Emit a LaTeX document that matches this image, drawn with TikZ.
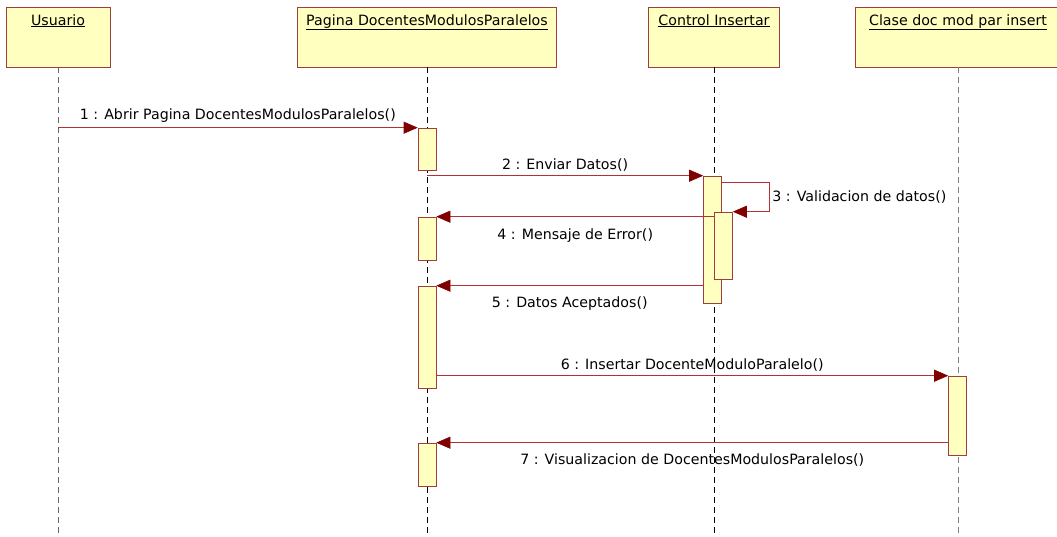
\documentclass[tikz,border=0pt]{standalone}
\usepackage{fontspec}
\setmainfont{DejaVu Sans}
\usetikzlibrary{arrows.meta}
\definecolor{boxfill}{RGB}{255,255,192}
\definecolor{boxline}{RGB}{160,60,60}
\definecolor{msgred}{RGB}{176,50,50}
\definecolor{tipred}{RGB}{128,0,0}

\begin{document}
\begin{tikzpicture}[x=1pt, y=-1pt,
  object/.style={rectangle, draw=boxline, fill=boxfill, semithick,
    minimum height=60pt, inner sep=0pt},
  bar/.style={rectangle, draw=boxline, fill=boxfill, semithick,
    minimum width=18pt, inner sep=0pt},
  lifeline/.style={dash pattern=on 6pt off 4pt, thin},
  msg/.style={draw=msgred, semithick,
    -{Triangle[length=14pt, width=12pt, color=tipred]}},
  lbl/.style={font=\fontsize{14.2}{17}\selectfont},
  ttl/.style={anchor=north, font=\fontsize{14.2}{17}\selectfont, yshift=-4pt}
]
\useasboundingbox (0,0) rectangle (1057,537);

% objects
\node[object, minimum width=104pt, label={[ttl]north:\underline{Usuario}}] (usr) at (58,37) {};
\node[object, minimum width=259pt, label={[ttl]north:\underline{Pagina DocentesModulosParalelos}}] (pag) at (427,37) {};
\node[object, minimum width=131pt, label={[ttl]north:\underline{Control Insertar}}] (ctl) at (714,37) {};
\node[object, minimum width=206pt, label={[ttl]north:\underline{Clase doc mod par insert}}] (cls) at (958,37) {};

\coordinate (usrend) at (58,537);
\coordinate (pagend) at (427,537);
\coordinate (ctlend) at (714,537);
\coordinate (clsend) at (958,537);

% lifelines
\draw[lifeline, gray!80!black] (usr) -- (usrend);
\draw[lifeline, black] (pag) -- (pagend);
\draw[lifeline, black] (ctl) -- (ctlend);
\draw[lifeline, gray] (cls) -- (clsend);

% activations
\node[bar, minimum height=42pt] (p1) at (427,149) {};
\node[bar, minimum height=43pt] (p2) at (427,238.5) {};
\node[bar, minimum height=102pt] (p3) at (427,337) {};
\node[bar, minimum height=43pt] (p4) at (427,464.5) {};
\node[bar, minimum height=127pt] (c1) at (712.5,239.5) {};
\node[bar, minimum height=67pt] (c2) at (723.5,245.5) {};
\node[bar, minimum height=79pt] (k1) at (957.5,415.5) {};

% messages
\draw[msg] (usr |- p1.north) -- node[above=2pt, lbl] {1 : Abrir Pagina DocentesModulosParalelos()} (p1.north west);
\draw[msg] (p1 |- c1.north) -- node[above=1pt, lbl] {2 : Enviar Datos()} (c1.north west);
\draw[msg] ([yshift=-7pt]c1.north east) -- ++(47,0)
  -- node[right, lbl] {3 : Validacion de datos()} ++(0,29) -- (c2.north east);
\draw[msg] (c2.west |- p2.north) -- node[below=8pt, lbl] {4 : Mensaje de Error()} (p2.north east);
\draw[msg] (c1.west |- p3.north) -- node[below=7pt, lbl] {5 : Datos Aceptados()} (p3.north east);
\draw[msg] (p3.east |- k1.north) -- node[above=1pt, lbl] {6 : Insertar DocenteModuloParalelo()} (k1.north west);
\draw[msg] (k1.west |- p4.north) -- node[below=7pt, lbl] {7 : Visualizacion de DocentesModulosParalelos()} (p4.north east);

\end{tikzpicture}
\end{document}
